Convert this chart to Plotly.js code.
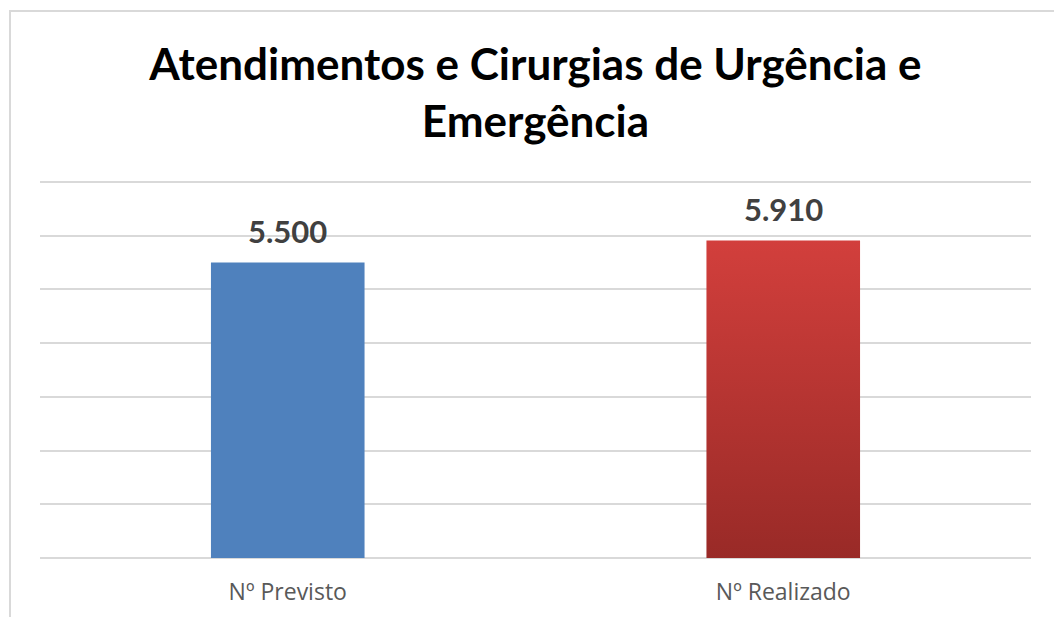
<!DOCTYPE html>
<html>
<head>
<meta charset="utf-8">
<script src="https://cdn.plot.ly/plotly-3.0.1.min.js"></script>
<style>
  html, body { margin: 0; padding: 0; background: #fff; }
  #wrap { position: relative; width: 1054px; height: 617px; overflow: hidden; }
  #frame { position: absolute; left: 9px; top: 10px; width: 1100px; height: 700px;
           border-left: 2px solid #d9d9d9; border-top: 2px solid #d9d9d9; pointer-events: none; }
  #chart { position: absolute; left: 0; top: 0; width: 1054px; height: 617px; }
</style>
</head>
<body>
<div id="wrap">
  <div id="chart"></div>
  <div id="frame"></div>
</div>
<script>
const categories = ["Nº Previsto", "Nº Realizado"];
const values = [5500, 5910];
const barColors = ["#4f81bd", "#c0392f"];
const titleText = "Atendimentos e Cirurgias de Urgência e<br>Emergência";

const trace = {
  type: "bar",
  x: categories,
  y: values,
  width: 0.31,
  marker: { color: barColors, line: { width: 0 } },
  hoverinfo: "none"
};

const annotations = categories.map((c, i) => ({
  x: c, y: values[i], xref: "x", yref: "y",
  text: values[i].toLocaleString("pt-BR"),
  showarrow: false, yanchor: "bottom", yshift: 11,
  font: { family: "Lato, 'Open Sans', sans-serif", size: 31, color: "#404040", weight: "bold" }
}));

const layout = {
  width: 1054, height: 617,
  margin: { l: 40, r: 23, t: 175, b: 59 },
  paper_bgcolor: "rgba(0,0,0,0)",
  plot_bgcolor: "rgba(0,0,0,0)",
  separators: ",.",
  showlegend: false,
  bargap: 0.69,
  title: {
    text: titleText,
    x: 0.508, xanchor: "center", y: 0.87, yanchor: "middle",
    font: { family: "Lato, 'Open Sans', sans-serif", size: 44, color: "#000000", weight: "bold" }
  },
  xaxis: {
    type: "category",
    showgrid: false, zeroline: false, showline: false,
    ticks: "", ticklen: 0, ticklabelstandoff: 18,
    tickfont: { family: "'Open Sans', sans-serif", size: 23, color: "#595959" },
    automargin: false
  },
  yaxis: {
    range: [0, 7130], dtick: 1000, tick0: 0,
    showticklabels: false, ticks: "",
    showgrid: true, gridcolor: "#d9d9d9", gridwidth: 2,
    zeroline: true, zerolinecolor: "#d9d9d9", zerolinewidth: 2,
    showline: false, fixedrange: true
  },
  annotations: annotations
};

Plotly.newPlot("chart", [trace], layout, { displayModeBar: false, staticPlot: true }).then(gd => {
  // Add a vertical gradient to the second bar (Excel-style red gradient)
  const svg = gd.querySelector("svg.main-svg");
  const ns = "http://www.w3.org/2000/svg";
  let defs = svg.querySelector("defs");
  if (!defs) { defs = document.createElementNS(ns, "defs"); svg.insertBefore(defs, svg.firstChild); }
  const lg = document.createElementNS(ns, "linearGradient");
  lg.setAttribute("id", "redGrad");
  lg.setAttribute("x1", "0"); lg.setAttribute("y1", "0");
  lg.setAttribute("x2", "0"); lg.setAttribute("y2", "1");
  [["0%", "#d23f3c"], ["100%", "#992a27"]].forEach(([o, c]) => {
    const s = document.createElementNS(ns, "stop");
    s.setAttribute("offset", o); s.setAttribute("stop-color", c);
    lg.appendChild(s);
  });
  defs.appendChild(lg);
  const paths = gd.querySelectorAll(".barlayer .point path");
  if (paths[1]) paths[1].style.fill = "url(#redGrad)";
});
</script>
</body>
</html>
